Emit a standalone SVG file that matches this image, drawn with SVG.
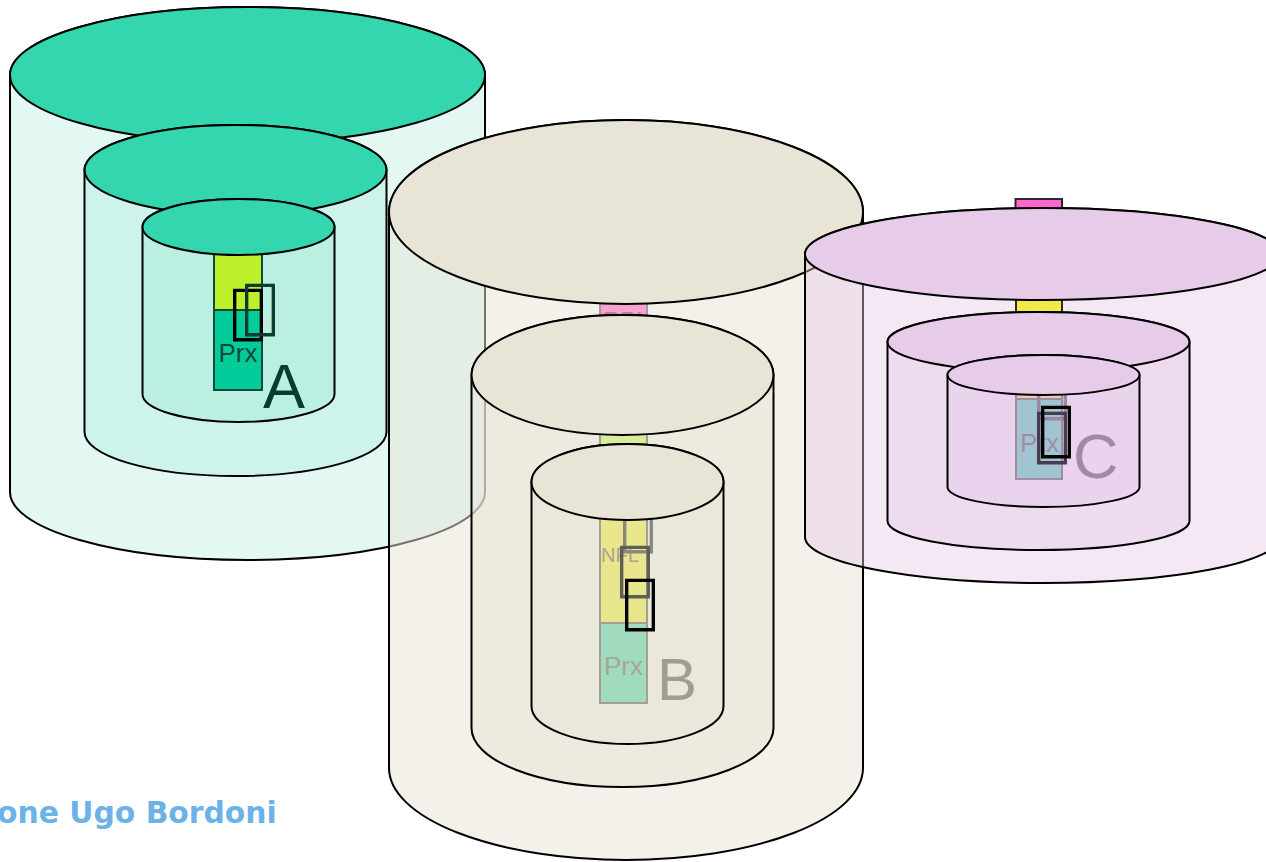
<svg xmlns="http://www.w3.org/2000/svg" width="1266" height="862" viewBox="0 0 1266 862">
  <style>
    .edge { stroke: #000; stroke-width: 2; }
    .a-top { fill: #33D6AE; }
    .b-top { fill: #E8E4D6; }
    .b-body { fill: #E8E4D6; fill-opacity: 0.5; }
    .c-top { fill: #E6CCE8; }
    .c-body { fill: #E5C8E7; fill-opacity: 0.42; }
    .lbl { font-family: "Liberation Sans", Arial, sans-serif; }
    .sym { font-family: "DejaVu Sans", sans-serif; font-size: 60px; }
    .foot { font-family: "DejaVu Sans", Verdana, sans-serif; font-weight: bold; font-size: 29.8px; fill: #6AB2E8; }
  </style>
  <rect width="1266" height="862" fill="#FFFFFF"/>

  <!-- Site A: three nested cylinders, opaque shells -->
  <g id="site-a">
    <path class="edge" fill="#E3F8F2" d="M10,75 L10,492 A237.5,68 0 0 0 485,492 L485,75 A237.5,68 0 0 0 10,75 Z"/>
    <ellipse class="edge a-top" cx="247.5" cy="75" rx="237.5" ry="68"/>
    <path class="edge" fill="#CEF3EA" d="M84.5,170 L84.5,432 A151,44 0 0 0 386.5,432 L386.5,170 A151,45 0 0 0 84.5,170 Z"/>
    <ellipse class="edge a-top" cx="235.5" cy="170" rx="151" ry="45"/>
    <path class="edge" fill="#BAEFE1" d="M142.5,227 L142.5,394 A96,28 0 0 0 334.5,394 L334.5,227 A96,28 0 0 0 142.5,227 Z"/>
    <g id="stack-a" stroke="#114A38" stroke-width="2">
      <rect x="214" y="230" width="48" height="80" fill="#BEF02A"/>
      <rect x="214" y="310" width="48" height="80" fill="#03CC9A"/>
    </g>
    <ellipse class="edge a-top" cx="238.5" cy="227" rx="96" ry="28"/>
    <text class="lbl" x="238" y="362" font-size="26" text-anchor="middle" fill="#0B4A38">Prx</text>
    <text class="lbl" x="263" y="408" font-size="63" fill="#073D2D">A</text>
    <text class="sym" x="230" y="331" font-weight="bold" fill="#000">&#xE000;</text>
    <text class="sym" x="242" y="326" fill="#0B3D2D">&#xE000;</text>
  </g>

  <!-- Site B: translucent shells laid over site A -->
  <g id="site-b">
    <path class="edge b-body" d="M389,212 L389,768 A237,92 0 0 0 863,768 L863,212 A237,92 0 0 0 389,212 Z"/>
    <rect x="600" y="290" width="47" height="40" fill="#F7A2D2" stroke="#A09E92" stroke-width="2"/>
    <text class="lbl" x="603" y="329" font-size="24" fill="#A08896">RPL</text>
    <ellipse class="edge b-top" cx="626" cy="212" rx="237" ry="92"/>
    <path class="edge b-body" d="M471.5,375 L471.5,728 A151,59 0 0 0 773.5,728 L773.5,375 A151,60 0 0 0 471.5,375 Z"/>
    <rect x="600" y="425" width="47" height="30" fill="#D9EC9C" stroke="#A09E92" stroke-width="2"/>
    <ellipse class="edge b-top" cx="622.5" cy="375" rx="151" ry="60"/>
    <path class="edge b-body" d="M531.5,482 L531.5,706 A96,38 0 0 0 723.5,706 L723.5,482 A96,38 0 0 0 531.5,482 Z"/>
    <g id="stack-b" stroke="#A3A092" stroke-width="2">
      <rect x="600" y="490" width="47" height="133" fill="#EAE68E"/>
      <rect x="600" y="623" width="47" height="80" fill="#A0DABF"/>
    </g>
    <text class="lbl" x="601" y="562" font-size="20" fill="#A8A690">NFL</text>
    <text class="lbl" x="623.5" y="675" font-size="26" text-anchor="middle" fill="#A8A69A">Prx</text>
    <text class="lbl" x="657" y="700" font-size="60" fill="#A09E91">B</text>
    <text class="sym" x="620" y="543" fill="#8A887E">&#xE000;</text>
    <text class="sym" x="617" y="588" fill="#5E5D56">&#xE000;</text>
    <ellipse class="edge b-top" cx="627.5" cy="482" rx="96" ry="38"/>
    <text class="sym" x="622" y="621" fill="#000">&#xE000;</text>
  </g>

  <!-- Site C: translucent shells laid over site B -->
  <g id="site-c">
    <path class="edge c-body" d="M805,254 L805,537 A237.5,46 0 0 0 1280,537 L1280,254 A237.5,46 0 0 0 805,254 Z"/>
    <g stroke="#2A2A2A" stroke-width="2">
      <rect x="1015.5" y="199" width="46.5" height="30" fill="#FF66CC"/>
      <rect x="1016" y="290" width="46" height="30" fill="#F2E84A"/>
    </g>
    <ellipse class="edge c-top" cx="1042.5" cy="254" rx="237.5" ry="46"/>
    <path class="edge c-body" d="M887.5,342 L887.5,521 A151,29 0 0 0 1189.5,521 L1189.5,342 A151,30 0 0 0 887.5,342 Z"/>
    <ellipse class="edge c-top" cx="1038.5" cy="342" rx="151" ry="30"/>
    <path class="edge c-body" d="M947.5,375 L947.5,487 A96,20 0 0 0 1139.5,487 L1139.5,375 A96,20 0 0 0 947.5,375 Z"/>
    <g id="stack-c" stroke="#A08CA8" stroke-width="2">
      <rect x="1016" y="380" width="46" height="19" fill="#E6CFA6"/>
      <rect x="1016" y="399" width="46" height="80" fill="#A0C4D0"/>
    </g>
    <text class="sym" x="1034" y="410" fill="#9A8AA0">&#xE000;</text>
    <text class="lbl" x="1020" y="452" font-size="26" fill="#A08DAB">Prx</text>
    <text class="lbl" x="1073" y="478" font-size="63" fill="#9F8BA4">C</text>
    <text class="sym" x="1034" y="454" fill="#4A3C50">&#xE000;</text>
    <ellipse class="edge c-top" cx="1043.5" cy="375" rx="96" ry="20"/>
    <text class="sym" x="1038" y="448" fill="#000">&#xE000;</text>
  </g>

  <text class="foot" x="-3" y="823">one Ugo Bordoni</text>
</svg>
